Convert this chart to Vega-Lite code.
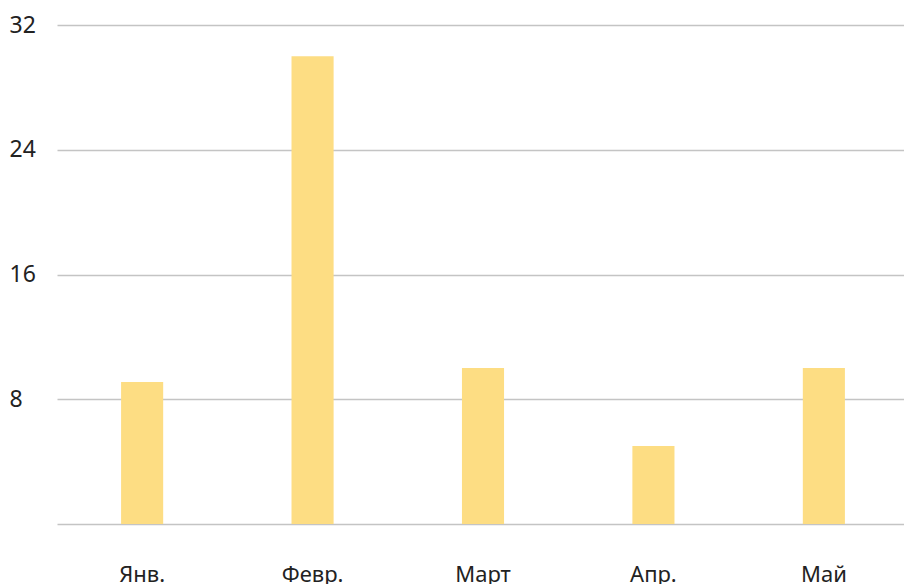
{
  "$schema": "https://vega.github.io/schema/vega-lite/v6.json",
  "autosize": "none",
  "padding": {"left": 57, "top": 25, "right": 0, "bottom": 60},
  "width": 852,
  "height": 499,
  "background": "white",
  "data": {"values": [
    {"month": "Янв.", "value": 9.1},
    {"month": "Февр.", "value": 30},
    {"month": "Март", "value": 10},
    {"month": "Апр.", "value": 5},
    {"month": "Май", "value": 10}
  ]},
  "config": {
    "view": {"stroke": null},
    "font": "Noto Sans"
  },
  "mark": {"type": "bar", "color": "#FDDD83"},
  "encoding": {
    "x": {
      "field": "month", "type": "nominal", "sort": null,
      "scale": {"paddingInner": 0.753, "paddingOuter": 0.376},
      "axis": {"title": null, "labelAngle": 0, "domain": false, "ticks": false,
        "labelFontSize": 22, "labelColor": "#222222", "labelPadding": 57,
        "labelBaseline": "alphabetic", "grid": false}
    },
    "y": {
      "field": "value", "type": "quantitative",
      "scale": {"domain": [0, 32], "nice": false},
      "axis": {"title": null, "values": [0, 8, 16, 24, 32], "domain": false, "ticks": false,
        "labelFontSize": 23, "labelColor": "#222222", "labelAlign": "left",
        "labelPadding": 48, "labelBaseline": "middle",
        "labelExpr": "datum.value == 0 ? '' : datum.label",
        "grid": true, "gridColor": "#c4c4c4", "gridWidth": 1.5}
    }
  }
}
